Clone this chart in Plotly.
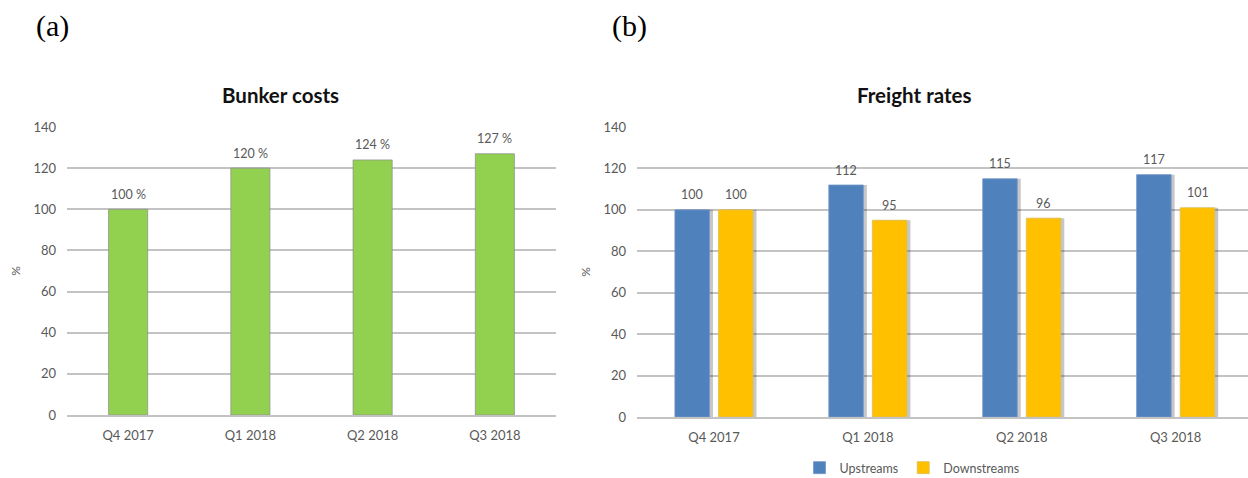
import plotly.graph_objects as go

# Quarterly indices
quarters = ["Q4 2017", "Q1 2018", "Q2 2018", "Q3 2018"]
bunker_costs = [100, 120, 124, 127]
upstreams = [100, 112, 115, 117]
downstreams = [100, 95, 96, 101]
y_ticks = [0, 20, 40, 60, 80, 100, 120, 140]

W, H = 1248, 478
FONT = "Lato"
GRAY = "#595959"
GRID = "#c3c3c3"


def px_x(p):
    return p / W


def px_y(p):
    return 1 - p / H


fig = go.Figure()

# (a) Bunker costs
fig.add_trace(go.Bar(
    x=quarters, y=bunker_costs, xaxis="x", yaxis="y",
    marker=dict(color="#92d050", line=dict(color="rgba(140,140,140,0.7)", width=1)),
    width=0.32, showlegend=False, hoverinfo="x+y",
))

# (b) Freight rates: soft drop shadows behind the bars
cat_px = 153.7
bar_w = 34.5 / cat_px
up_off = -39 / cat_px
down_off = 4.5 / cat_px
sh = 3.5 / cat_px
for vals, off in ((upstreams, up_off), (downstreams, down_off)):
    fig.add_trace(go.Bar(
        x=quarters, y=vals, xaxis="x2", yaxis="y2",
        marker=dict(color="rgba(0,0,0,0.22)", line=dict(width=0)),
        width=bar_w, offset=off + sh, showlegend=False, hoverinfo="skip",
    ))

fig.add_trace(go.Bar(
    x=quarters, y=upstreams, name="Upstreams", xaxis="x2", yaxis="y2",
    marker=dict(color="#4f81bd", line=dict(color="rgba(120,150,200,0.8)", width=1)),
    width=bar_w, offset=up_off,
))
fig.add_trace(go.Bar(
    x=quarters, y=downstreams, name="Downstreams", xaxis="x2", yaxis="y2",
    marker=dict(color="#ffc000", line=dict(color="rgba(220,190,90,0.8)", width=1)),
    width=bar_w, offset=down_off,
))

annotations = []
# value labels above the bars
for q, v in zip(quarters, bunker_costs):
    annotations.append(dict(x=q, y=v, xref="x", yref="y", text=f"{v} %",
                            showarrow=False, yshift=15, yanchor="middle",
                            font=dict(family=FONT, size=12.5, color=GRAY)))
for q, v in zip(quarters, upstreams):
    annotations.append(dict(x=q, y=v, xref="x2", yref="y2", text=str(v),
                            showarrow=False, yshift=15, yanchor="middle",
                            xshift=-22,
                            font=dict(family=FONT, size=12.5, color=GRAY)))
for q, v in zip(quarters, downstreams):
    annotations.append(dict(x=q, y=v, xref="x2", yref="y2", text=str(v),
                            showarrow=False, yshift=15, yanchor="middle",
                            xshift=22,
                            font=dict(family=FONT, size=12.5, color=GRAY)))

# panel letters and chart titles
annotations += [
    dict(x=px_x(52), y=px_y(26), xref="paper", yref="paper", text="(a)",
         showarrow=False, xanchor="center", yanchor="middle",
         font=dict(family="Liberation Serif", size=30, color="black")),
    dict(x=px_x(629), y=px_y(26), xref="paper", yref="paper", text="(b)",
         showarrow=False, xanchor="center", yanchor="middle",
         font=dict(family="Liberation Serif", size=30, color="black")),
    dict(x=px_x(280), y=px_y(95), xref="paper", yref="paper", text="<b>Bunker costs</b>",
         showarrow=False, xanchor="center", yanchor="middle",
         font=dict(family=FONT, size=20.5, color="#111111")),
    dict(x=px_x(914), y=px_y(95), xref="paper", yref="paper", text="<b>Freight rates</b>",
         showarrow=False, xanchor="center", yanchor="middle",
         font=dict(family=FONT, size=20.5, color="#111111")),
]

tickfont = dict(family=FONT, size=13, color=GRAY)

yaxis_common = dict(
    range=[0, 140], tickvals=y_ticks, showgrid=True, gridcolor=GRID, gridwidth=2,
    zeroline=False, showline=False, ticks="", tickfont=tickfont,
    ticklabelstandoff=10, fixedrange=True,
    title=dict(text="%", font=dict(family=FONT, size=12, color=GRAY), standoff=10),
)
xaxis_common = dict(
    showgrid=False, zeroline=False, showline=True, linecolor=GRID, linewidth=2,
    ticks="", tickfont=tickfont, ticklabelstandoff=7, fixedrange=True,
)

fig.update_layout(
    width=W, height=H,
    margin=dict(l=0, r=0, t=0, b=0, autoexpand=False),
    paper_bgcolor="white", plot_bgcolor="white",
    barmode="overlay",
    xaxis=dict(domain=[px_x(67), px_x(556)], anchor="y", range=[-0.5, 3.5], **xaxis_common),
    yaxis=dict(domain=[px_y(415), px_y(127)], anchor="x", **yaxis_common),
    xaxis2=dict(domain=[px_x(637), 1.0], anchor="y2", range=[-0.5, 3.47], **xaxis_common),
    yaxis2=dict(domain=[px_y(417), px_y(127)], anchor="x2", **yaxis_common),
    legend=dict(orientation="h", x=px_x(912), xanchor="center", y=px_y(468),
                yanchor="middle", font=dict(family=FONT, size=12.5, color=GRAY),
                itemwidth=30, tracegroupgap=0, bgcolor="rgba(0,0,0,0)"),
    annotations=annotations,
)

fig.write_html("out.html")
